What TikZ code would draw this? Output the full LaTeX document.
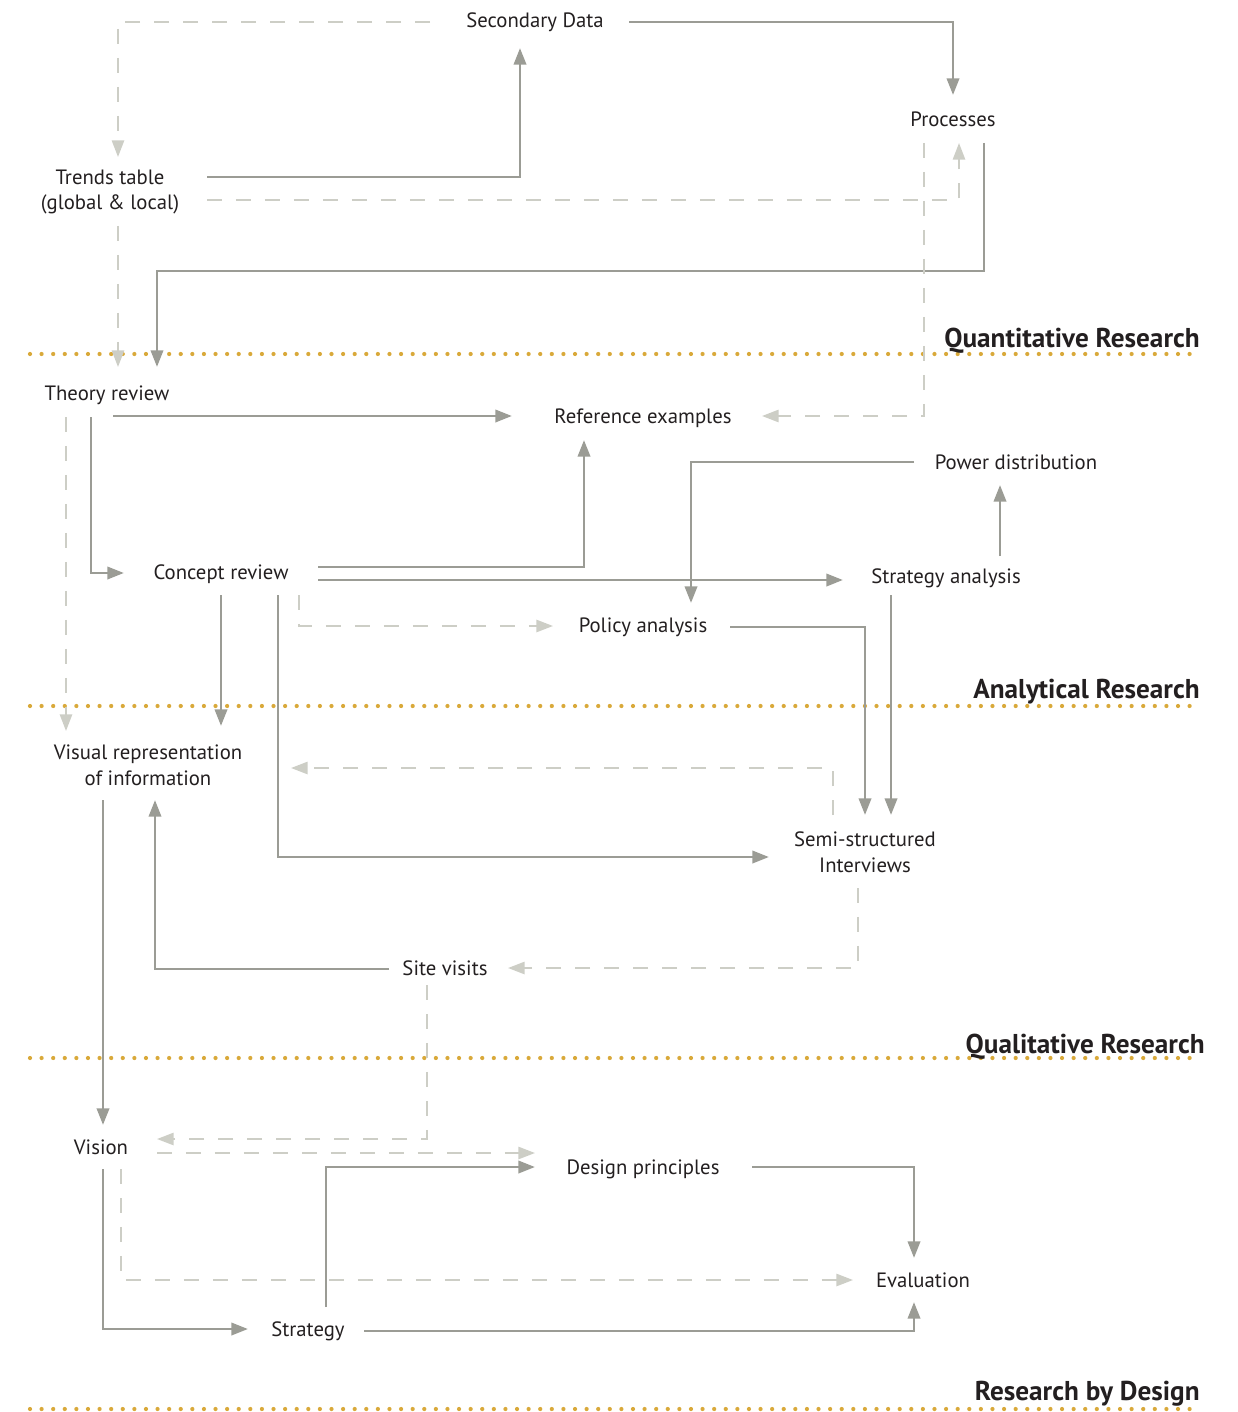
\documentclass[tikz,border=0pt]{standalone}
\usepackage{fontspec}
\setmainfont{PT Sans}
\usetikzlibrary{arrows.meta,calc}

\begin{document}
\begin{tikzpicture}[x=0.02cm, y=-0.02cm]
    \definecolor{lineColour}{HTML}{9B9C95}
    \definecolor{dashColour}{HTML}{CDCEC6}
    \definecolor{dotColour}{HTML}{D9A93A}
    \definecolor{textColour}{HTML}{231F20}
    \tikzset{
        lbl/.style={text=textColour, font=\fontsize{11.8}{14.7}\selectfont, align=center, inner sep=0pt, text height=8pt, text depth=0pt},
        lbltwo/.style={text=textColour, font=\fontsize{11.8}{14.7}\selectfont, align=center, inner sep=0pt},
        heading/.style={text=textColour, font=\fontsize{15.5}{18}\selectfont\bfseries, anchor=base east, inner sep=0pt},
        solidArrow/.style={draw=lineColour, line width=1.6pt, -{Triangle[length=9.5pt,width=7pt]}},
        dashArrow/.style={draw=dashColour, line width=1.1pt, dash pattern=on 8.5pt off 8pt, -{Triangle[length=9.5pt,width=7pt]}},
        sepLine/.style={draw=dotColour, line width=2.4pt, line cap=round, dash pattern=on 0pt off 6.6pt}
    }

    % Page frame
    \useasboundingbox (0,0) rectangle (1237,1412);

    % Section separators
    \draw[sepLine] (30,354) -- (1200,354);
    \draw[sepLine] (30,706) -- (1200,706);
    \draw[sepLine] (30,1058) -- (1200,1058);
    \draw[sepLine] (30,1409) -- (1200,1409);
    \node[heading] (quant) at (1200,347) {Quantitative Research};
    \node[heading] (anal) at (1200,698) {Analytical Research};
    \node[heading] (qual) at (1205,1053) {Qualitative Research};
    \node[heading] (rbd) at (1200,1400) {Research by Design};

    % Labels
    \node[lbl] (sec) at (535,20) {Secondary Data};
    \node[lbl] (proc) at (953,119) {Processes};
    \node[lbltwo] (tt) at (110,192) {Trends table\\(global \& local)};
    \node[lbl] (thr) at (107,393) {Theory review};
    \node[lbl] (ref) at (643,416) {Reference examples};
    \node[lbl] (pow) at (1016,462) {Power distribution};
    \node[lbl] (con) at (221,572) {Concept review};
    \node[lbl] (stra) at (946,576) {Strategy analysis};
    \node[lbl] (pol) at (643,625) {Policy analysis};
    \node[lbltwo] (vis) at (148,765) {Visual representation\\of information};
    \node[lbltwo] (semi) at (865,852) {Semi-structured\\Interviews};
    \node[lbl] (site) at (445,968) {Site visits};
    \node[lbl] (vision) at (101,1147) {Vision};
    \node[lbl] (dp) at (643,1167) {Design principles};
    \node[lbl] (eval) at (923,1280) {Evaluation};
    \node[lbl] (strat) at (308,1329) {Strategy};

    % Solid connectors
    \draw[solidArrow] ($(sec)+(94,2)$) -| ($(proc)+(0,-24)$);
    \draw[solidArrow] ($(tt)+(97,-15)$) -| ($(sec)+(-15,28)$);
    \draw[solidArrow] ($(proc)+(31,24)$) -- ++(0,128) -| ($(thr)+(50,-26)$);
    \draw[solidArrow] ($(thr)+(6,23)$) -- ($(ref)+(-131,0)$);
    \draw[solidArrow] ($(thr)+(-16,24)$) |- ($(con)+(-97,1)$);
    \draw[solidArrow] ($(con)+(97,-5)$) -| ($(ref)+(-59,24)$);
    \draw[solidArrow] ($(con)+(97,8)$) -- ($(stra)+(-103,4)$);
    \draw[solidArrow] ($(con)+(0,23)$) -- ($(vis)+(73,-39)$);
    \draw[solidArrow] ($(con)+(57,23)$) |- ($(semi)+(-96,5)$);
    \draw[solidArrow] ($(pow)+(-102,0)$) -| ($(pol)+(48,-22)$);
    \draw[solidArrow] ($(stra)+(54,-20)$) -- ($(pow)+(-16,23)$);
    \draw[solidArrow] ($(pol)+(87,2)$) -| ($(semi)+(0,-37)$);
    \draw[solidArrow] ($(stra)+(-55,19)$) -- ($(semi)+(26,-37)$);
    \draw[solidArrow] ($(vis)+(-45,35)$) -- ($(vision)+(2,-22)$);
    \draw[solidArrow] ($(site)+(-56,1)$) -| ($(vis)+(7,35)$);
    \draw[solidArrow] ($(vision)+(2,22)$) |- ($(strat)+(-60,0)$);
    \draw[solidArrow] ($(strat)+(18,-22)$) |- ($(dp)+(-108,0)$);
    \draw[solidArrow] ($(dp)+(109,0)$) -| ($(eval)+(-9,-22)$);
    \draw[solidArrow] ($(strat)+(56,2)$) -| ($(eval)+(-9,22)$);

    % Dashed connectors
    \draw[dashArrow] ($(sec)+(-105,2)$) -| ($(tt)+(8,-35)$);
    \draw[dashArrow] ($(tt)+(8,34)$) -- ($(thr)+(11,-26)$);
    \draw[dashArrow] ($(tt)+(97,8)$) -| ($(proc)+(6,24)$);
    \draw[dashArrow] ($(proc)+(-29,24)$) |- ($(ref)+(119,0)$);
    \draw[dashArrow] ($(thr)+(-41,24)$) -- ($(vis)+(-82,-34)$);
    \draw[dashArrow] ($(con)+(78,23)$) |- ($(pol)+(-90,1)$);
    \draw[dashArrow] ($(semi)+(-32,-37)$) |- ($(vis)+(143,3)$);
    \draw[dashArrow] ($(semi)+(-7,36)$) |- ($(site)+(63,0)$);
    \draw[dashArrow] ($(site)+(-18,17)$) |- ($(vision)+(56,-8)$);
    \draw[dashArrow] ($(vision)+(56,6)$) -- ($(dp)+(-108,-14)$);
    \draw[dashArrow] ($(vision)+(20,22)$) |- ($(eval)+(-70,0)$);

\end{tikzpicture}
\end{document}
